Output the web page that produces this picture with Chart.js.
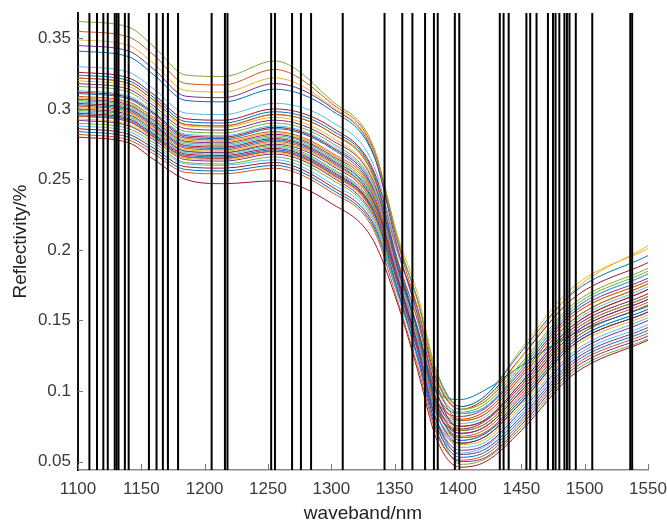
<!DOCTYPE html>
<html><head><meta charset="utf-8">
<script src="https://cdn.jsdelivr.net/npm/chart.js@4/dist/chart.umd.min.js"></script>
<style>html,body{margin:0;padding:0;background:#fff;}#c{display:block;}</style>
</head><body>
<canvas id="c" width="667" height="523"></canvas>
<script>
const wavelengths = [1100,1140,1160,1185,1215,1255,1300,1333,1353,1368,1383,1402,1422,1450,1490,1550];

// reflectivity spectra
const s01 = [0.362,0.358,0.344,0.324,0.323,0.334,0.306,0.274,0.206,0.164,0.110,0.087,0.093,0.120,0.161,0.187];
const s02 = [0.355,0.351,0.338,0.318,0.317,0.328,0.304,0.272,0.203,0.159,0.105,0.080,0.086,0.112,0.153,0.178];
const s03 = [0.349,0.345,0.332,0.313,0.312,0.322,0.302,0.271,0.208,0.169,0.113,0.087,0.093,0.124,0.170,0.203];
const s04 = [0.345,0.341,0.328,0.309,0.308,0.318,0.301,0.269,0.199,0.154,0.100,0.073,0.079,0.104,0.144,0.169];
const s05 = [0.341,0.337,0.324,0.306,0.305,0.314,0.299,0.268,0.204,0.165,0.114,0.089,0.097,0.128,0.169,0.196];
const s06 = [0.330,0.326,0.314,0.297,0.296,0.304,0.291,0.261,0.197,0.156,0.105,0.084,0.089,0.116,0.157,0.183];
const s07 = [0.326,0.322,0.310,0.293,0.292,0.300,0.287,0.257,0.197,0.158,0.108,0.087,0.095,0.124,0.165,0.191];
const s08 = [0.324,0.320,0.308,0.291,0.290,0.298,0.285,0.255,0.189,0.143,0.090,0.065,0.070,0.094,0.134,0.158];
const s09 = [0.322,0.318,0.306,0.289,0.288,0.296,0.283,0.253,0.191,0.150,0.099,0.079,0.084,0.110,0.150,0.176];
const s10 = [0.320,0.316,0.304,0.288,0.287,0.294,0.280,0.251,0.196,0.159,0.112,0.089,0.097,0.130,0.173,0.201];
const s11 = [0.318,0.314,0.302,0.286,0.285,0.292,0.278,0.249,0.187,0.143,0.092,0.070,0.075,0.100,0.140,0.165];
const s12 = [0.316,0.312,0.300,0.284,0.283,0.290,0.276,0.247,0.190,0.151,0.102,0.085,0.091,0.118,0.159,0.185];
const s13 = [0.313,0.309,0.298,0.282,0.281,0.288,0.274,0.245,0.182,0.136,0.084,0.060,0.064,0.088,0.127,0.152];
const s14 = [0.312,0.308,0.297,0.281,0.280,0.287,0.273,0.244,0.185,0.144,0.094,0.075,0.080,0.106,0.146,0.172];
const s15 = [0.311,0.307,0.296,0.280,0.279,0.286,0.272,0.243,0.190,0.145,0.100,0.094,0.101,0.118,0.140,0.160];
const s16 = [0.309,0.305,0.294,0.279,0.278,0.284,0.269,0.241,0.181,0.138,0.088,0.067,0.071,0.096,0.136,0.161];
const s17 = [0.308,0.304,0.293,0.278,0.277,0.283,0.268,0.240,0.185,0.145,0.097,0.080,0.086,0.112,0.153,0.178];
const s18 = [0.307,0.303,0.292,0.277,0.276,0.282,0.267,0.239,0.177,0.131,0.079,0.055,0.059,0.082,0.121,0.145];
const s19 = [0.306,0.302,0.291,0.276,0.275,0.281,0.266,0.238,0.181,0.139,0.090,0.072,0.077,0.102,0.142,0.167];
const s20 = [0.305,0.301,0.290,0.275,0.274,0.280,0.265,0.237,0.182,0.142,0.094,0.077,0.082,0.108,0.148,0.174];
const s21 = [0.304,0.300,0.289,0.274,0.273,0.279,0.264,0.236,0.178,0.134,0.084,0.063,0.068,0.092,0.132,0.156];
const s22 = [0.303,0.299,0.288,0.273,0.272,0.278,0.263,0.235,0.183,0.144,0.098,0.084,0.089,0.116,0.157,0.183];
const s23 = [0.302,0.298,0.287,0.272,0.271,0.277,0.262,0.234,0.178,0.136,0.087,0.068,0.073,0.098,0.138,0.163];
const s24 = [0.301,0.297,0.286,0.271,0.270,0.276,0.261,0.233,0.179,0.138,0.090,0.073,0.079,0.104,0.144,0.169];
const s25 = [0.300,0.296,0.285,0.270,0.269,0.275,0.260,0.232,0.174,0.129,0.079,0.058,0.062,0.086,0.125,0.150];
const s26 = [0.299,0.295,0.284,0.270,0.269,0.274,0.258,0.231,0.179,0.140,0.093,0.079,0.084,0.110,0.150,0.176];
const s27 = [0.298,0.294,0.283,0.269,0.268,0.273,0.257,0.230,0.175,0.132,0.084,0.065,0.070,0.094,0.134,0.158];
const s28 = [0.297,0.293,0.282,0.268,0.267,0.272,0.256,0.229,0.176,0.134,0.087,0.070,0.075,0.100,0.140,0.165];
const s29 = [0.296,0.292,0.281,0.267,0.266,0.271,0.255,0.228,0.170,0.125,0.075,0.053,0.057,0.080,0.119,0.143];
const s30 = [0.295,0.291,0.280,0.266,0.265,0.270,0.254,0.227,0.176,0.136,0.090,0.075,0.080,0.106,0.146,0.172];
const s31 = [0.293,0.289,0.279,0.265,0.264,0.269,0.253,0.226,0.171,0.129,0.080,0.062,0.066,0.090,0.130,0.154];
const s32 = [0.292,0.288,0.278,0.264,0.263,0.268,0.252,0.225,0.177,0.139,0.094,0.082,0.088,0.114,0.155,0.180];
const s33 = [0.290,0.286,0.276,0.262,0.261,0.266,0.250,0.223,0.171,0.130,0.083,0.067,0.071,0.096,0.136,0.161];
const s34 = [0.288,0.284,0.274,0.261,0.260,0.264,0.247,0.221,0.167,0.124,0.075,0.056,0.061,0.084,0.123,0.147];
const s35 = [0.286,0.282,0.272,0.259,0.258,0.262,0.245,0.219,0.170,0.131,0.086,0.072,0.077,0.102,0.142,0.167];
const s36 = [0.284,0.280,0.270,0.257,0.256,0.260,0.243,0.217,0.167,0.125,0.079,0.063,0.068,0.092,0.132,0.156];
const s37 = [0.282,0.278,0.268,0.255,0.254,0.258,0.241,0.215,0.162,0.118,0.070,0.051,0.055,0.078,0.117,0.141];
const s38 = [0.280,0.276,0.264,0.250,0.247,0.249,0.233,0.207,0.160,0.115,0.066,0.046,0.050,0.072,0.111,0.136];
const s39 = [0.295,0.291,0.280,0.266,0.265,0.270,0.254,0.227,0.169,0.123,0.072,0.050,0.053,0.076,0.115,0.139];
const s40 = [0.322,0.318,0.306,0.289,0.288,0.296,0.283,0.253,0.183,0.134,0.078,0.048,0.052,0.074,0.113,0.137];
const spectra = [s01,s02,s03,s04,s05,s06,s07,s08,s09,s10,s11,s12,s13,s14,s15,s16,s17,s18,s19,s20,
                 s21,s22,s23,s24,s25,s26,s27,s28,s29,s30,s31,s32,s33,s34,s35,s36,s37,s38,s39,s40];

// selected characteristic wavebands (vertical black lines)
const selectedBands = [1109,1115,1120,1123.5,1129,1130.5,1132,1137,1140,1156,1162,1167,1171,1179,
  1205.5,1216,1218,1252.5,1255.5,1269,1276,1284,1309,1342,1356,1364,1374,1381,1384,1397.5,1401,
  1433,1436,1440,1454,1457,1462,1471,1475,1477,1480,1484,1486,1488,1493,1506,1536,1537.5];

const xTickLabels = [1100,1150,1200,1250,1300,1350,1400,1450,1500,1550];
const yTickLabels = [0.05,0.1,0.15,0.2,0.25,0.3,0.35];
const yLimits = [0.044,0.368];

const palette = ['#0072BD','#D95319','#EDB120','#7E2F8E','#77AC30','#4DBEEE','#A2142F'];
const colorIdx = [4,1,2,3,0,5,6, 0,1,2,3,4,5,6, 0,1,2,3,4,5,6, 0,1,2,3,4,5,6, 0,1,2,3,4,5,6, 0,1,6,3,4];

const FONT = '"Liberation Sans", Arial, Helvetica, sans-serif';

const datasets = [];
selectedBands.forEach(b => {
  datasets.push({
    data: [{x: b, y: yLimits[0]}, {x: b, y: yLimits[1]}],
    borderColor: '#000', borderWidth: 2, pointRadius: 0, order: 0, tension: 0
  });
});
spectra.forEach((s, i) => {
  datasets.push({
    data: wavelengths.map((w, j) => ({x: w, y: s[j]})),
    borderColor: palette[colorIdx[i % colorIdx.length]],
    borderWidth: 1, pointRadius: 0, order: 1,
    cubicInterpolationMode: 'monotone'
  });
});

const innerTicks = {
  id: 'innerTicks',
  afterDatasetsDraw(chart) {
    const {ctx, chartArea: a, scales: {x, y}} = chart;
    ctx.save();
    ctx.strokeStyle = '#777';
    ctx.lineWidth = 1;
    yTickLabels.forEach(v => {
      const py = Math.round(y.getPixelForValue(v)) + 0.5;
      ctx.beginPath(); ctx.moveTo(a.left, py); ctx.lineTo(a.left + 5, py); ctx.stroke();
    });
    xTickLabels.forEach(v => {
      const px = Math.round(x.getPixelForValue(v)) + 0.5;
      ctx.beginPath(); ctx.moveTo(px, a.bottom); ctx.lineTo(px, a.bottom - 6); ctx.stroke();
    });
    ctx.restore();
  }
};

new Chart(document.getElementById('c'), {
  type: 'line',
  data: {datasets},
  options: {
    responsive: false,
    animation: false,
    devicePixelRatio: 1,
    events: [],
    layout: {padding: {top: 13, right: 19, left: 0, bottom: 0}},
    plugins: {legend: {display: false}, tooltip: {enabled: false}},
    elements: {point: {radius: 0}},
    scales: {
      x: {
        type: 'linear', position: 'bottom', min: 1100, max: 1550,
        afterBuildTicks: s => { s.ticks = xTickLabels.map(v => ({value: v})); },
        afterFit: s => { s.height = 53; s.paddingLeft = 0; s.paddingRight = 0; },
        grid: {display: false, drawTicks: false},
        border: {display: true, color: '#8c8c8c', width: 1.5},
        ticks: {font: {family: FONT, size: 17}, color: '#3a3a3a', padding: 9, maxRotation: 0, autoSkip: false,
                callback: v => String(v)},
        title: {display: true, text: 'waveband/nm', color: '#222',
                font: {family: FONT, size: 19, lineHeight: 1}, padding: {top: 0, bottom: 0}}
      },
      y: {
        type: 'linear', position: 'left', min: yLimits[0], max: yLimits[1],
        afterBuildTicks: s => { s.ticks = yTickLabels.map(v => ({value: v})); },
        afterFit: s => { s.width = 78; s.paddingTop = 0; s.paddingBottom = 0; },
        grid: {display: false, drawTicks: false},
        border: {display: true, color: '#111', width: 2},
        ticks: {font: {family: FONT, size: 17}, color: '#3a3a3a', padding: 7,
                callback: v => String(parseFloat(v.toFixed(2)))},
        title: {display: true, text: 'Reflectivity/%', color: '#222',
                font: {family: FONT, size: 19, lineHeight: 1}, padding: {top: 11, bottom: 0}}
      }
    }
  },
  plugins: [innerTicks]
});
</script>
</body></html>
